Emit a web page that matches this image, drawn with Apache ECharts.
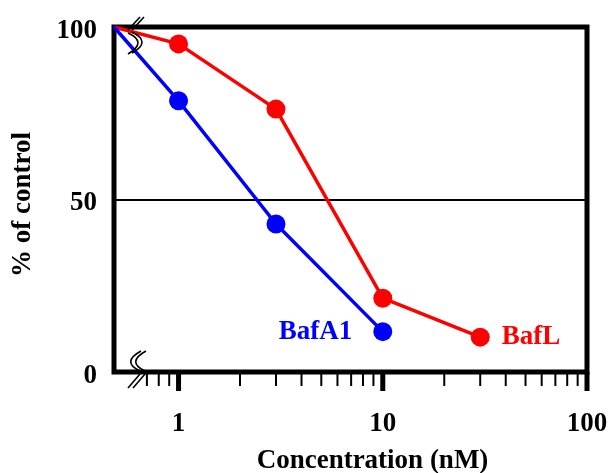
<!DOCTYPE html>
<html>
<head>
<meta charset="utf-8">
<script src="https://cdn.jsdelivr.net/npm/echarts@6/dist/echarts.min.js"></script>
<style>
  html, body { margin: 0; padding: 0; background: #fff; }
  #chart { width: 608px; height: 473px; }
</style>
</head>
<body>
<div id="chart"></div>
<script>
// concentration (nM); first point sits on the left edge of the axis
var xMin = 0.483;
var bafA1X = [xMin, 1, 3, 10];
var bafA1Y = [100, 78.6, 42.9, 11.7];
var bafLX = [xMin, 1, 3, 10, 30];
var bafLY = [100, 95.1, 76.2, 21.4, 10.1];

var majorTicks = [1, 10, 100];
var majorLabels = ['1', '10', '100'];
var minorTicks = [0.7, 0.8, 0.9, 2, 3, 4, 5, 6, 7, 8, 9, 20, 30, 40, 50, 60, 70, 80, 90];
var yTicks = [0, 50, 100];
var yLabels = ['0', '50', '100'];

var font = "'Liberation Serif', 'Times New Roman', serif";

function pairs(xs, ys) {
    var out = [];
    for (var i = 0; i < xs.length; i++) {
        out.push([xs[i], ys[i]]);
    }
    // no dot on the starting corner
    out[0] = { value: out[0], symbol: 'none' };
    return out;
}

var redData = pairs(bafLX, bafLY);
redData[redData.length - 1] = {
    value: redData[redData.length - 1],
    label: { show: true, position: 'right', distance: 12, formatter: 'BafL',
             color: '#ff0000', fontFamily: font, fontWeight: 'bold', fontSize: 27 }
};
var blueData = pairs(bafA1X, bafA1Y);
blueData[blueData.length - 1] = {
    value: blueData[blueData.length - 1],
    label: { show: true, position: 'left', distance: 21, formatter: 'BafA1',
             color: '#0000ff', fontFamily: font, fontWeight: 'bold', fontSize: 27 }
};

var tickData = [];
majorTicks.forEach(function (v) { tickData.push([v, 0, 1]); });
minorTicks.forEach(function (v) { tickData.push([v, 0, 0]); });
var yLabelData = yTicks.map(function (v) { return [xMin, v]; });

//刻度 (drawn by hand so the log minor ticks land on 2..9)
function renderTick(params, api) {
    var p = api.coord([api.value(0), 0]);
    var major = api.value(2) === 1;
    var children = [{
        type: 'line',
        shape: { x1: p[0], y1: p[1], x2: p[0], y2: p[1] + (major ? 19 : 14) },
        style: { stroke: '#000', lineWidth: major ? 5 : 2 }
    }];
    if (major) {
        children.push({
            type: 'text',
            x: p[0], y: p[1] + 52,
            style: { text: majorLabels[majorTicks.indexOf(api.value(0))], fill: '#000',
                     font: 'bold 27px ' + font, align: 'center', verticalAlign: 'middle' }
        });
    }
    return { type: 'group', children: children };
}

function renderYLabel(params, api) {
    var p = api.coord([api.value(0), api.value(1)]);
    return {
        type: 'text',
        x: p[0] - 17, y: p[1] + 4,
        style: { text: yLabels[yTicks.indexOf(api.value(1))], fill: '#000',
                 font: 'bold 27px ' + font, align: 'right', verticalAlign: 'middle' }
    };
}

var brk = { stroke: '#000', lineWidth: 1.6, fill: null };
function seg(x1, y1, x2, y2) {
    return { type: 'line', shape: { x1: x1, y1: y1, x2: x2, y2: y2 }, style: brk, z: 10 };
}
function arc(x1, y1, cx, cy, x2, y2) {
    return { type: 'bezierCurve', shape: { x1: x1, y1: y1, cpx1: cx, cpy1: cy, x2: x2, y2: y2 }, style: brk, z: 10 };
}

var option = {
    animation: false,
    grid: {
        left: 114, right: 21, top: 27, bottom: 101,
        outerBoundsMode: 'none',
        containLabel: false,
        show: true, borderColor: '#000', borderWidth: 5, backgroundColor: 'transparent'
    },
    xAxis: {
        type: 'log',
        logBase: 10,
        min: xMin,
        max: 100,
        axisLine: { show: false },
        axisTick: { show: false },
        axisLabel: { show: false },
        splitLine: { show: false },
        name: 'Concentration (nM)',
        nameLocation: 'middle',
        nameGap: 76,
        nameTextStyle: { color: '#000', fontFamily: font, fontWeight: 'bold', fontSize: 27,
                         padding: [0, 0, 0, 44] }
    },
    yAxis: {
        type: 'value',
        min: 0,
        max: 100,
        interval: 50,
        axisLine: { show: false },
        axisTick: { show: false },
        axisLabel: { show: false },
        splitLine: { show: true, lineStyle: { color: '#000', width: 2 } },
        name: '% of control',
        nameLocation: 'middle',
        nameGap: 77,
        nameTextStyle: { color: '#000', fontFamily: font, fontWeight: 'bold', fontSize: 27,
                         padding: [0, 10, 0, 0] }
    },
    series: [
        {
            type: 'line',
            data: redData,
            color: '#ff0000',
            symbol: 'circle',
            symbolSize: 19,
            showAllSymbol: true,
            lineStyle: { width: 3.5 },
            z: 3
        },
        {
            type: 'line',
            data: blueData,
            color: '#0000ff',
            symbol: 'circle',
            symbolSize: 19,
            showAllSymbol: true,
            lineStyle: { width: 3.5 },
            z: 4
        },
        {
            type: 'custom',
            data: tickData,
            encode: { x: 0, y: 1 },
            renderItem: renderTick,
            clip: false,
            silent: true,
            z: 5
        },
        {
            type: 'custom',
            data: yLabelData,
            encode: { x: 0, y: 1 },
            renderItem: renderYLabel,
            clip: false,
            silent: true,
            z: 5
        }
    ],
    // axis break marks
    graphic: [
        seg(128, 30, 140, 17),
        seg(132, 30, 144, 17),
        arc(128, 33, 148, 42, 128, 54),
        arc(132, 32, 152, 42, 132, 53),
        arc(141, 351, 121, 362, 140, 371),
        arc(146, 351, 126, 362, 145, 371),
        seg(140, 374, 128, 388),
        seg(145, 374, 133, 388)
    ]
};

echarts.init(document.getElementById('chart')).setOption(option);
</script>
</body>
</html>
